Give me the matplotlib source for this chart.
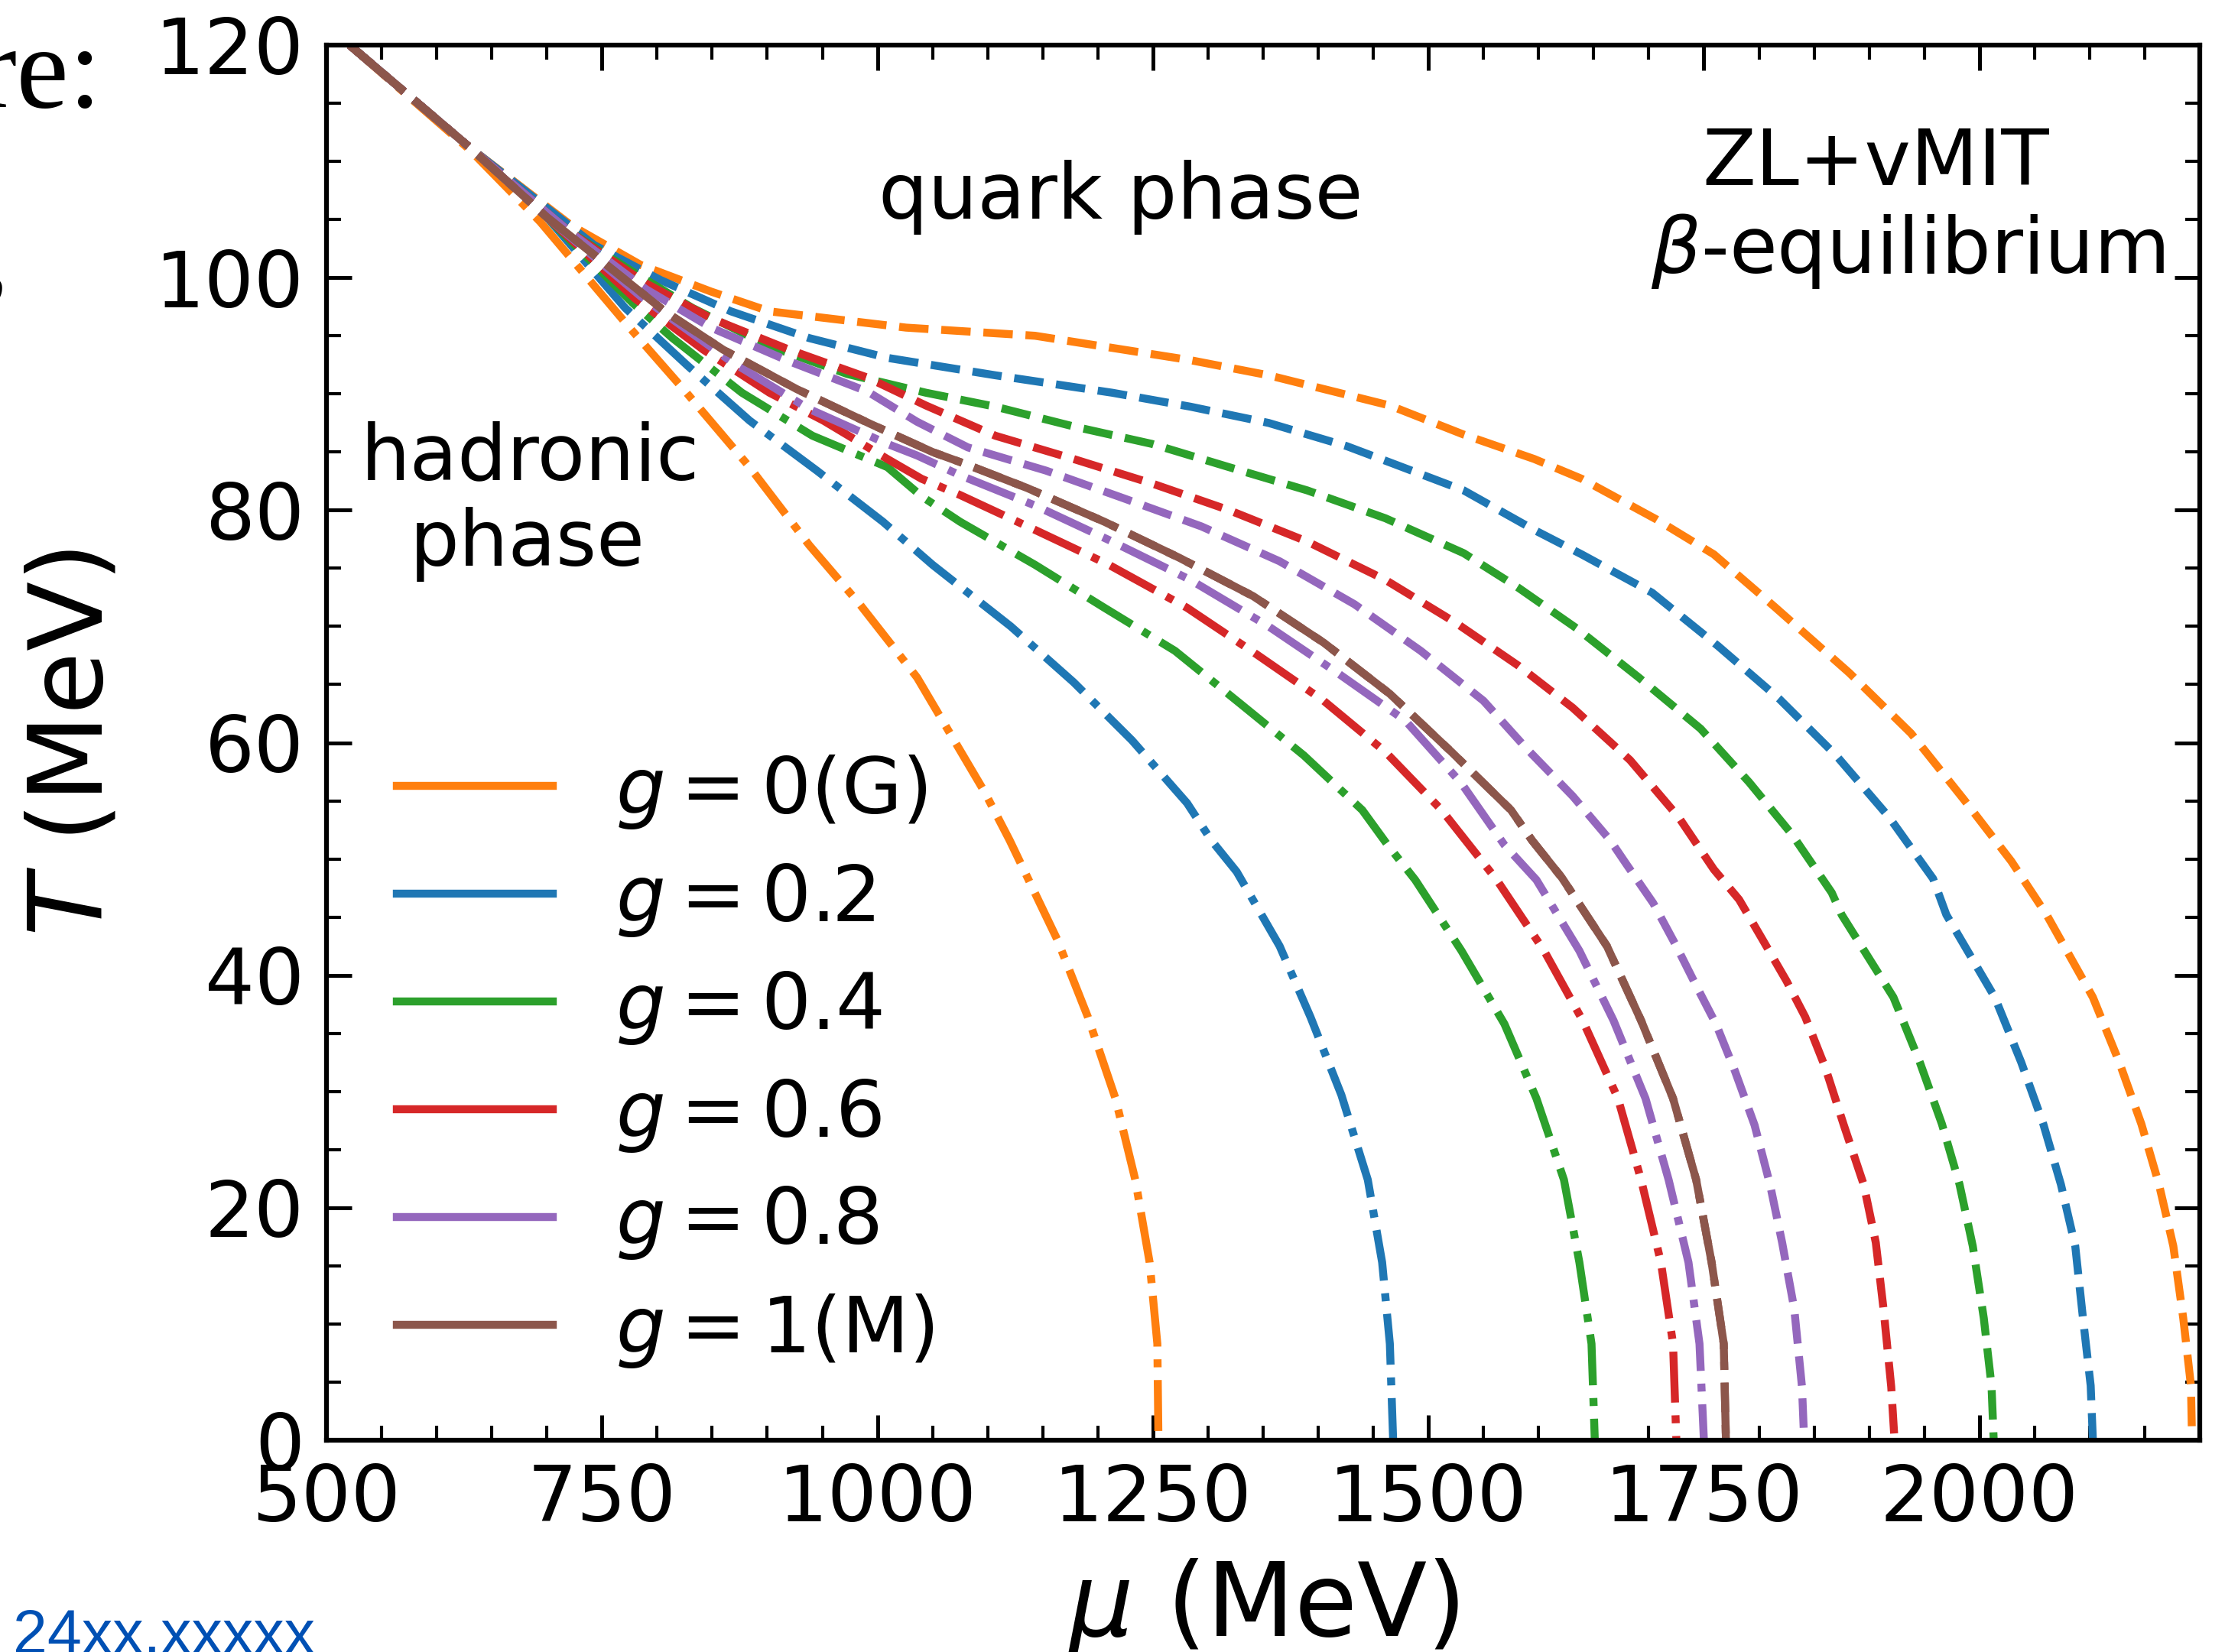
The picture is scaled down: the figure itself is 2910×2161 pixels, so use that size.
import matplotlib
matplotlib.use("Agg")
import matplotlib.pyplot as plt
from matplotlib.lines import Line2D
from matplotlib.ticker import MultipleLocator

# ---------------- data ----------------
labels = [r"$g=0$(G)", r"$g=0.2$", r"$g=0.4$", r"$g=0.6$", r"$g=0.8$", r"$g=1$(M)"]
colors = ["#ff7f0e", "#1f77b4", "#2ca02c", "#d62728", "#9467bd", "#8c564b"]

# dash-dot curves
mu_g0_dd = [521, 630, 694, 775, 824, 884, 938, 984, 1036, 1097, 1120, 1163, 1191, 1216, 1234, 1247, 1254, 1255]
T_g0_dd = [120, 111.0, 104.8, 95.7, 90.4, 83.7, 77.0, 71.9, 65.6, 55.8, 51.6, 43.1, 36.4, 29.4, 22.4, 15.3, 8.3, 0]

mu_g02_dd = [521, 630, 700, 771, 828, 884, 945, 1005, 1050, 1121, 1178, 1231, 1281, 1303, 1326, 1365, 1393, 1421, 1445, 1458, 1465, 1468]
T_g02_dd = [120, 111.2, 105.2, 97.4, 92.4, 87.7, 83.4, 79.0, 75.3, 70.0, 65.2, 60.2, 54.8, 51.6, 48.9, 42.5, 36.4, 29.7, 22.4, 15.3, 8.3, 0]

mu_g04_dd = [521, 630, 700, 778, 814, 877, 941, 1009, 1040, 1075, 1143, 1206, 1270, 1330, 1387, 1440, 1463, 1488, 1530, 1569, 1598, 1623, 1637, 1648, 1651]
T_g04_dd = [120, 111.2, 105.2, 97.8, 94.8, 90.1, 86.4, 83.7, 81.2, 79.0, 75.3, 71.6, 67.9, 63.3, 58.9, 54.2, 51.2, 48.2, 42.1, 35.8, 29.4, 22.4, 15.3, 8.3, 0]

mu_g06_dd = [521, 630, 700, 780, 842, 902, 951, 1009, 1040, 1075, 1143, 1210, 1281, 1344, 1405, 1461, 1512, 1537, 1562, 1605, 1640, 1672, 1693, 1711, 1722, 1725]
T_g06_dd = [120, 111.2, 105.2, 98.2, 93.8, 90.1, 87.7, 84.4, 82.7, 81.3, 78.3, 75.3, 71.6, 67.6, 63.6, 59.2, 54.2, 51.2, 48.2, 42.1, 36.1, 29.4, 22.4, 15.3, 8.3, 0]

mu_g08_dd = [521, 630, 700, 785, 867, 938, 1009, 1036, 1075, 1143, 1213, 1284, 1355, 1419, 1479, 1530, 1569, 1598, 1637, 1668, 1697, 1718, 1736, 1746, 1750]
T_g08_dd = [120, 111.2, 105.2, 98.4, 92.8, 88.7, 85.7, 84.7, 83.0, 80.4, 77.3, 74.0, 70.0, 65.9, 61.9, 56.5, 51.2, 48.2, 42.1, 36.1, 29.4, 22.4, 15.3, 8.3, 0]

# dashed curves
mu_g0_da = [521, 630, 722, 785, 849, 902, 955, 1026, 1143, 1284, 1355, 1465, 1532, 1596, 1639, 1707, 1759, 1814, 1882, 1938, 1986, 2029, 2061, 2103, 2127, 2147, 2163, 2176, 2185, 2192, 2193]
T_g0_da = [120, 111.2, 104.5, 101.1, 98.8, 97.1, 96.5, 95.7, 95.0, 92.9, 91.6, 89.0, 86.5, 84.4, 82.7, 79.2, 76.2, 71.7, 66.0, 60.8, 55.1, 49.8, 45.2, 38.1, 32.5, 27.2, 22.0, 16.7, 10.5, 4.7, 0]

mu_g02_da = [521, 630, 743, 803, 867, 938, 1009, 1107, 1213, 1284, 1355, 1426, 1468, 1532, 1596, 1639, 1703, 1763, 1818, 1870, 1918, 1958, 1970, 2014, 2038, 2058, 2074, 2087, 2094, 2101, 2103]
T_g02_da = [120, 111.2, 102.8, 99.8, 97.1, 94.8, 93.1, 91.6, 90.1, 88.9, 87.5, 85.5, 84.0, 81.7, 78.3, 76.2, 72.9, 68.3, 63.8, 58.9, 53.6, 48.3, 45.2, 38.1, 32.5, 27.2, 22.0, 16.7, 10.5, 4.7, 0]

mu_g04_da = [521, 630, 720, 778, 832, 902, 973, 1044, 1107, 1178, 1249, 1319, 1390, 1461, 1532, 1582, 1635, 1691, 1747, 1791, 1830, 1866, 1875, 1922, 1946, 1966, 1982, 1994, 2004, 2011, 2013]
T_g04_da = [120, 111.2, 104.0, 100.5, 97.4, 94.1, 91.7, 90.1, 88.9, 87.2, 85.7, 83.7, 81.7, 79.3, 76.3, 73.3, 69.8, 65.6, 61.2, 56.6, 52.1, 47.1, 45.2, 38.1, 32.5, 27.2, 22.0, 16.7, 10.5, 4.7, 0]

mu_g06_da = [521, 630, 720, 790, 849, 920, 991, 1044, 1107, 1178, 1249, 1319, 1390, 1461, 1525, 1582, 1631, 1683, 1727, 1759, 1782, 1803, 1825, 1842, 1860, 1877, 1895, 1906, 1913, 1920, 1923]
T_g06_da = [120, 111.2, 104.0, 99.5, 96.5, 93.8, 91.4, 89.0, 86.4, 84.4, 82.3, 80.0, 77.3, 74.0, 70.3, 66.6, 63.0, 58.5, 53.6, 49.1, 46.5, 43.1, 39.5, 36.4, 32.1, 27.1, 22.0, 17.0, 11.3, 4.6, 0]

mu_g08_da = [521, 630, 720, 790, 849, 920, 991, 1036, 1082, 1153, 1224, 1294, 1365, 1433, 1493, 1550, 1589, 1631, 1665, 1680, 1704, 1725, 1743, 1761, 1778, 1796, 1810, 1821, 1832, 1839, 1841]
T_g08_da = [120, 111.2, 104.0, 99.0, 95.7, 92.8, 90.2, 87.6, 85.4, 83.4, 81.0, 78.6, 75.6, 71.9, 67.9, 63.6, 59.5, 55.4, 51.6, 49.5, 46.2, 42.5, 39.1, 35.8, 31.8, 27.1, 22.0, 17.0, 11.3, 4.6, 0]

# g = 1 (both descriptions coincide)
mu_g1 = [521, 630, 700, 807, 860, 927, 994, 1050, 1079, 1136, 1206, 1274, 1341, 1405, 1465, 1521, 1575, 1594, 1621, 1662, 1693, 1722, 1743, 1757, 1768, 1770]
T_g1 = [120, 111.2, 105.2, 97.1, 93.8, 90.4, 87.4, 85.0, 84.0, 81.9, 79.0, 75.9, 72.6, 68.6, 64.2, 59.2, 54.2, 51.6, 48.4, 42.5, 36.1, 29.4, 22.4, 15.3, 8.3, 0]

xticks = [500, 750, 1000, 1250, 1500, 1750, 2000]
yticks = [0, 20, 40, 60, 80, 100, 120]

# ---------------- figure ----------------
W, H = 2910, 2161
DPI = 300
fig = plt.figure(figsize=(W / DPI, H / DPI), dpi=DPI)
ax = fig.add_axes([427 / W, 1 - 1884 / H, (2877 - 427) / W, (1884 - 59) / H])

LW = 2.5
dd_sets = [(mu_g0_dd, T_g0_dd), (mu_g02_dd, T_g02_dd), (mu_g04_dd, T_g04_dd),
           (mu_g06_dd, T_g06_dd), (mu_g08_dd, T_g08_dd)]
da_sets = [(mu_g0_da, T_g0_da), (mu_g02_da, T_g02_da), (mu_g04_da, T_g04_da),
           (mu_g06_da, T_g06_da), (mu_g08_da, T_g08_da)]
for i in range(5):
    ax.plot(dd_sets[i][0], dd_sets[i][1], color=colors[i], lw=LW, ls="-.")
    ax.plot(da_sets[i][0], da_sets[i][1], color=colors[i], lw=LW, ls="--")
ax.plot(mu_g1, T_g1, color=colors[5], lw=LW, ls="-.")
ax.plot(mu_g1, T_g1, color=colors[5], lw=LW, ls="--")

ax.set_xlim(500, 2200)
ax.set_ylim(0, 120)
ax.set_xticks(xticks)
ax.set_yticks(yticks)
ax.xaxis.set_minor_locator(MultipleLocator(50))
ax.yaxis.set_minor_locator(MultipleLocator(5))
ax.tick_params(which="both", direction="in", top=True, right=True)
ax.tick_params(which="major", length=8, width=1.2, labelsize=24.5, pad=7)
ax.tick_params(which="minor", length=4.5, width=1.0)
for s in ax.spines.values():
    s.set_linewidth(1.5)

ax.set_xlabel(r"$\mu$ (MeV)", fontsize=32, labelpad=6)
ax.set_ylabel(r"$T$ (MeV)", fontsize=32, labelpad=10)

handles = [Line2D([0], [0], color=c, lw=LW) for c in colors]
ax.legend(handles, labels, loc="lower left", frameon=False, fontsize=24.5,
          handlelength=2.0, labelspacing=0.39)

ax.text(1221, 105.1, "quark phase", fontsize=24.5, ha="center", va="baseline")
ax.text(1906, 108.0, "ZL+vMIT", fontsize=24.5, ha="center", va="baseline")
ax.text(1935, 100.4, r"$\beta$-equilibrium", fontsize=24.5, ha="center", va="baseline")
ax.text(685, 82.65, "hadronic", fontsize=24.5, ha="center", va="baseline")
ax.text(682, 75.2, "phase", fontsize=24.5, ha="center", va="baseline")

# fragments of surrounding page text visible in the reference
fig.text(134 / W, 1 - 140 / H, "re:", fontsize=37, family="Liberation Serif",
         ha="right", va="baseline")
fig.text(12 / W, 1 - 379 / H, ",", fontsize=37, family="Liberation Serif",
         ha="right", va="baseline")
fig.text(17 / W, 1 - 2163 / H, "24xx.xxxxx", fontsize=19.4, family="Liberation Sans",
         color="#0050b4", ha="left", va="baseline")

fig.savefig("out.png", dpi=DPI)
